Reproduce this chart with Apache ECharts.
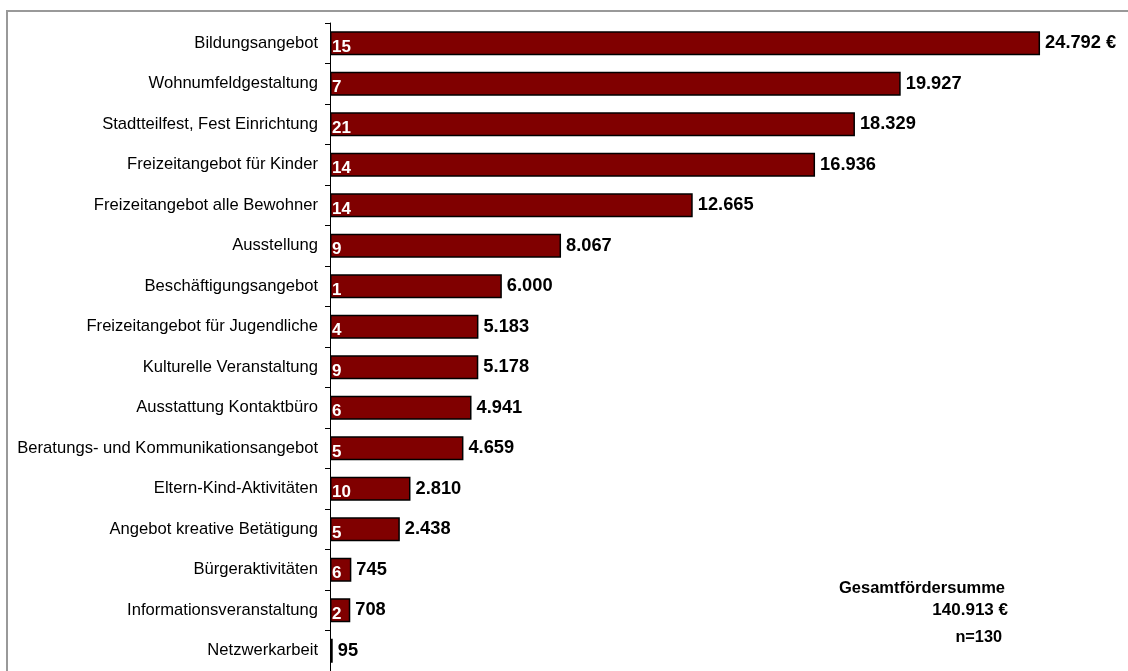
<!DOCTYPE html>
<html>
<head>
<meta charset="utf-8">
<script src="https://cdn.jsdelivr.net/npm/echarts@6/dist/echarts.min.js"></script>
<style>
  html, body { margin: 0; padding: 0; background: #fff; }
  #chart { width: 1128px; height: 671px; }
</style>
</head>
<body>
<div id="chart"></div>
<script>
// Funding per project type (EUR) and number of projects per type
const categories = [
  'Bildungsangebot',
  'Wohnumfeldgestaltung',
  'Stadtteilfest, Fest Einrichtung',
  'Freizeitangebot für Kinder',
  'Freizeitangebot alle Bewohner',
  'Ausstellung',
  'Beschäftigungsangebot',
  'Freizeitangebot für Jugendliche',
  'Kulturelle Veranstaltung',
  'Ausstattung Kontaktbüro',
  'Beratungs- und Kommunikationsangebot',
  'Eltern-Kind-Aktivitäten',
  'Angebot kreative Betätigung',
  'Bürgeraktivitäten',
  'Informationsveranstaltung',
  'Netzwerkarbeit'
];
const amounts = [24792, 19927, 18329, 16936, 12665, 8067, 6000, 5183, 5178, 4941, 4659, 2810, 2438, 745, 708, 95];
const projectCounts = [15, 7, 21, 14, 14, 9, 1, 4, 9, 6, 5, 10, 5, 6, 2, null];
const totalLabel = 'Gesamtfördersumme';
const totalAmount = '140.913 €';
const sampleSize = 'n=130';

const FONT = '"Liberation Sans", Arial, sans-serif';

function fmtEuro(v) {
  return String(v).replace(/\B(?=(\d{3})+(?!\d))/g, '.');
}

const chart = echarts.init(document.getElementById('chart'), null, { renderer: 'canvas' });

chart.setOption({
  animation: false,
  backgroundColor: '#ffffff',
  grid: { left: 330, top: 23, width: 716, height: 653, containLabel: false },
  xAxis: {
    type: 'value',
    min: 0,
    max: 25000,
    show: false
  },
  yAxis: {
    type: 'category',
    data: categories,
    inverse: true,
    axisLine: { show: true, lineStyle: { color: '#000', width: 1 } },
    axisTick: { show: true, length: 5, lineStyle: { color: '#000', width: 1 } },
    axisLabel: { color: '#000', fontFamily: FONT, fontSize: 16.6, margin: 12 },
    splitLine: { show: false }
  },
  series: [
    {
      type: 'bar',
      data: amounts,
      barWidth: 24,
      itemStyle: { color: '#800000', borderColor: '#000', borderWidth: 1.5 },
      label: {
        show: true,
        position: 'right',
        distance: 5,
        color: '#000',
        fontFamily: FONT,
        fontWeight: 'bold',
        fontSize: 18.3,
        formatter: p => fmtEuro(p.value) + (p.dataIndex === 0 ? ' €' : '')
      }
    },
    {
      type: 'bar',
      data: amounts,
      barWidth: 24,
      barGap: '-100%',
      silent: true,
      z: 5,
      itemStyle: { color: 'rgba(0,0,0,0)' },
      label: {
        show: true,
        position: 'insideLeft',
        distance: 2,
        offset: [0, 4],
        color: '#fff',
        fontFamily: FONT,
        fontWeight: 'bold',
        fontSize: 17,
        formatter: p => projectCounts[p.dataIndex] == null ? '' : String(projectCounts[p.dataIndex])
      }
    }
  ],
  graphic: [
    {
      type: 'rect',
      shape: { x: 7, y: 11, width: 1140, height: 700 },
      style: { fill: 'none', stroke: '#999', lineWidth: 2 },
      silent: true,
      z: -1
    },
    {
      type: 'text',
      left: 839, top: 580,
      style: { text: totalLabel, fill: '#000', font: 'bold 16.5px ' + FONT }
    },
    {
      type: 'text',
      right: 1128 - 1008, top: 602,
      style: { text: totalAmount, fill: '#000', font: 'bold 17px ' + FONT, textAlign: 'right' }
    },
    {
      type: 'text',
      right: 1128 - 1002, top: 630,
      style: { text: sampleSize, fill: '#000', font: 'bold 16.3px ' + FONT, textAlign: 'right' }
    }
  ]
});
</script>
</body>
</html>
